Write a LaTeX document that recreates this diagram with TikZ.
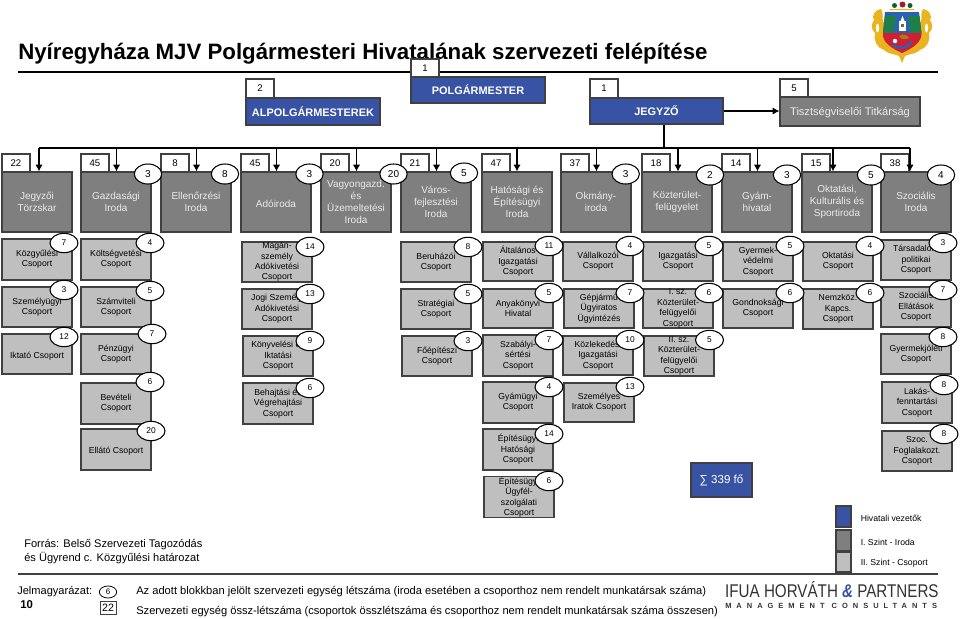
\documentclass[tikz,border=0pt]{standalone}
\usepackage{fontspec}
\setmainfont{Liberation Sans}
\usetikzlibrary{arrows.meta,shapes.geometric}
\pgfdeclarelayer{top}
\pgfsetlayers{main,top}
\definecolor{bluebox}{HTML}{3953A4}
\definecolor{darkbox}{HTML}{7F7F7F}
\definecolor{lightbox}{HTML}{BFBFBF}
\definecolor{edgecol}{HTML}{404040}
\definecolor{goldc}{HTML}{E9B41F}
\definecolor{redc}{HTML}{CE1F36}
\definecolor{greenc}{HTML}{1F7F48}
\definecolor{bluec}{HTML}{2A62AE}
\tikzset{
 base/.style={draw=edgecol,line width=.95pt,inner sep=0pt,align=center},
 tabbox/.style={base,fill=white,font=\fontsize{7.2}{9}\selectfont,line width=.8pt},
 bossbox/.style={base,fill=bluebox,text=white,font=\bfseries\fontsize{8.2}{10}\selectfont},
 officebox/.style={base,fill=darkbox,text=white!92!black,font=\fontsize{7.5}{9}\selectfont,execute at begin node={\rule{0pt}{8pt}}},
 groupbox/.style={base,fill=lightbox,text=black,font=\fontsize{6.5}{7.8}\selectfont,execute at begin node={\rule{0pt}{8pt}}},
 bigoval/.style={draw=black,line width=.8pt,fill=white,ellipse,inner sep=0pt,minimum width=20.5pt,minimum height=15pt,font=\fontsize{7.5}{9}\selectfont},
 smalloval/.style={draw=black,line width=.8pt,fill=white,ellipse,inner sep=0pt,minimum width=21pt,minimum height=14.5pt,font=\fontsize{6.3}{8}\selectfont},
 lineconn/.style={draw=black,line width=.85pt},
 arrconn/.style={lineconn,-{Latex[length=5pt,width=5.5pt]}},
 plain/.style={inner sep=0pt,anchor=west,align=left},
}
\newcommand{\bx}[7]{%
 \pgfmathsetlengthmacro\bxw{(#5-#3)*0.75pt}%
 \pgfmathsetlengthmacro\bxh{(#6-#4)*0.75pt}%
 \node[#2,minimum width=\bxw,minimum height=\bxh] (#1) at ({(#3+#5)/2},{(#4+#6)/2}) {#7};}
\newcommand{\ovb}[4]{\begin{pgfonlayer}{top}\node[bigoval] (#1) at (#2,#3) {#4};\end{pgfonlayer}}
\newcommand{\ovs}[4]{\begin{pgfonlayer}{top}\node[smalloval] (#1) at (#2,#3) {#4};\end{pgfonlayer}}
\newcommand{\gp}[9]{\bx{#1}{groupbox}{#2}{#3}{#4}{#5}{#6}\ovs{#1o}{#7}{#8}{#9}}
\begin{document}
\begin{tikzpicture}[x=0.75pt,y=-0.75pt]
\useasboundingbox (0,0) rectangle (960,618);
% title and rules
\node[plain,font=\bfseries\fontsize{16.7}{18}\selectfont] (title) at (18,53.5) {Nyíregyháza MJV Polgármesteri Hivatalának szervezeti felépítése};
\coordinate (ruleA) at (18,72); \coordinate (ruleB) at (938,72);
\draw[line width=.9pt,draw=black] (ruleA) -- (ruleB);
\coordinate (ruleC) at (18,574); \coordinate (ruleD) at (938,574);
\draw[line width=1.2pt,draw=edgecol] (ruleC) -- (ruleD);
% leaders
\bx{polg}{bossbox}{411}{77}{545}{103}{POLGÁRMESTER}
\bx{polgt}{tabbox}{411}{59}{439}{77}{1}
\bx{alp}{bossbox}{246}{98}{380}{125}{ALPOLGÁRMESTEREK}
\bx{alpt}{tabbox}{246}{79}{274}{98}{2}
\bx{jeg}{bossbox}{590}{98}{723}{124}{JEGYZŐ}
\bx{jegt}{tabbox}{590}{79}{618}{98}{1}
\bx{tisz}{officebox,font=\fontsize{8.3}{10}\selectfont}{780}{97}{920}{126}{Tisztségviselői Titkárság}
\bx{tiszt}{tabbox}{780}{79}{808}{97}{5}
% offices
\bx{o1}{officebox}{2}{172}{72}{232}{Jegyzői\\Törzskar}
\bx{o2}{officebox}{81}{172}{151}{232}{Gazdasági\\Iroda}
\bx{o3}{officebox}{161}{172}{231}{232}{Ellenőrzési\\Iroda}
\bx{o4}{officebox}{241}{172}{311}{232}{Adóiroda}
\bx{o5}{officebox}{321}{172}{391}{232}{Vagyongazd.\\és\\Üzemeltetési\\Iroda}
\bx{o6}{officebox}{401}{172}{471}{232}{Város-\\fejlesztési\\Iroda}
\bx{o7}{officebox}{482}{172}{552}{232}{Hatósági és\\Építésügyi\\Iroda}
\bx{o8}{officebox}{561}{172}{631}{232}{Okmány-\\iroda}
\bx{o9}{officebox}{642}{172}{712}{232}{Közterület-\\felügyelet}
\bx{o10}{officebox}{722}{172}{792}{232}{Gyám-\\hivatal}
\bx{o11}{officebox}{802}{172}{872}{232}{Oktatási,\\Kulturális és\\Sportiroda}
\bx{o12}{officebox}{881}{172}{951}{232}{Szociális\\Iroda}
\bx{t1}{tabbox}{2}{154}{30}{172}{22}
\bx{t2}{tabbox}{81}{154}{109}{172}{45}
\bx{t3}{tabbox}{161}{154}{189}{172}{8}
\bx{t4}{tabbox}{241}{154}{269}{172}{45}
\bx{t5}{tabbox}{321}{154}{349}{172}{20}
\bx{t6}{tabbox}{401}{154}{429}{172}{21}
\bx{t7}{tabbox}{482}{154}{510}{172}{47}
\bx{t8}{tabbox}{561}{154}{589}{172}{37}
\bx{t9}{tabbox}{642}{154}{670}{172}{18}
\bx{t10}{tabbox}{722}{154}{750}{172}{14}
\bx{t11}{tabbox}{802}{154}{830}{172}{15}
\bx{t12}{tabbox}{881}{154}{909}{172}{38}
\ovb{v2}{148}{174}{3}
\ovb{v3}{225}{174}{8}
\ovb{v4}{309.5}{174}{3}
\ovb{v5}{393.5}{174}{20}
\ovb{v6}{464}{173}{5}
\ovb{v8}{625.7}{174}{3}
\ovb{v9}{710}{175}{2}
\ovb{v10}{787}{175}{3}
\ovb{v11}{871}{175}{5}
\ovb{v12}{941}{175}{4}
% connectors
\coordinate (b1) at (39,148); \coordinate (b2) at (116.5,148); \coordinate (b3) at (196.5,148);
\coordinate (b4) at (276.5,148); \coordinate (b5) at (356.5,148); \coordinate (b6) at (436.5,148);
\coordinate (b7) at (517,148); \coordinate (b8) at (596.5,148); \coordinate (b9) at (678,148);
\coordinate (b10) at (757.5,148); \coordinate (b11) at (833,148); \coordinate (b12) at (910,148);
\coordinate (bj) at (664,148);
\draw[lineconn] (b1) -- (b12);
\draw[lineconn] (bj |- jeg.south) -- (bj);
\foreach \i in {1,...,12} {\draw[arrconn] (b\i) -- (b\i |- o\i.north);}
\draw[arrconn] (jeg.east) -- (jeg.east -| tisz.west);
% groups, column 1
\gp{g1}{2}{239}{72}{280}{Közgyűlési\\Csoport}{64}{243}{7}
\gp{g2}{2}{287}{72}{327}{Személyügyi\\Csoport}{64}{290}{3}
\gp{g3}{2}{334}{72}{374}{Iktató Csoport}{64}{337}{12}
% column 2
\gp{g4}{81}{239}{151}{280}{Költségvetési\\Csoport}{150}{243}{4}
\gp{g5}{81}{287}{151}{327}{Számviteli\\Csoport}{150}{291}{5}
\gp{g6}{81}{334}{151}{374}{Pénzügyi\\Csoport}{152}{334}{7}
\gp{g7}{81}{383}{151}{424}{Bevételi\\Csoport}{150}{382}{6}
\gp{g8}{81}{429}{151}{470}{Ellátó Csoport}{151}{431}{20}
% column 4
\gp{g9}{242}{242}{312}{282}{Magán-\\személy\\Adókivetési\\Csoport}{310}{247}{14}
\gp{g10}{242}{289}{312}{329}{Jogi Személy\\Adókivetési\\Csoport}{310}{294}{13}
\gp{g11}{243}{336}{313}{376}{Könyvelési és\\Iktatási\\Csoport}{310}{341}{9}
\gp{g12}{243}{383}{313}{424}{Behajtási és\\Végrehajtási\\Csoport}{310}{388}{6}
% column 6
\gp{g13}{401}{242}{471}{282}{Beruházói\\Csoport}{468}{247}{8}
\gp{g14}{401}{289}{471}{329}{Stratégiai\\Csoport}{468}{294}{5}
\gp{g15}{402}{336}{472}{376}{Főépítészi\\Csoport}{468}{341}{3}
% column 7
\gp{g16}{483}{242}{553}{281}{Általános\\Igazgatási\\Csoport}{549}{246}{11}
\gp{g17}{483}{289}{553}{328}{Anyakönyvi\\Hivatal}{549}{293}{5}
\gp{g18}{483}{335}{553}{376}{Szabályi-\\sértési\\Csoport}{549}{340}{7}
\gp{g19}{483}{382}{553}{423}{Gyámügyi\\Csoport}{549}{387}{4}
\gp{g20}{483}{429}{553}{470}{Építésügyi\\Hatósági\\Csoport}{549}{434}{14}
\gp{g21}{484}{477}{554}{517}{Építésügyi\\Ügyfél-\\szolgálati\\Csoport}{549}{481}{6}
% column 8
\gp{g22}{563}{242}{633}{281}{Vállalkozói\\Csoport}{630}{246}{4}
\gp{g23}{564}{289}{634}{328}{Gépjármű\\Ügyiratos\\Ügyintézés}{630}{293}{7}
\gp{g24}{563}{336}{633}{375}{Közlekedési\\Igazgatási\\Csoport}{630}{340}{10}
\gp{g25}{564}{383}{634}{422}{Személyes\\Iratok Csoport}{630}{387}{13}
% column 9
\gp{g26}{643}{242}{713}{281}{Igazgatási\\Csoport}{709}{246}{5}
\gp{g27}{643}{289}{713}{328}{I. sz.\\Közterület-\\felügyelői\\Csoport}{709}{293}{6}
\gp{g28}{644}{336}{714}{376}{II. sz.\\Közterület-\\felügyelői\\Csoport}{709.5}{340}{5}
% column 10
\gp{g29}{723}{242}{793}{281}{Gyermek-\\védelmi\\Csoport}{790}{246}{5}
\gp{g30}{723}{289}{793}{328}{Gondnoksági\\Csoport}{790}{293}{6}
% column 11
\gp{g31}{803}{242}{873}{281}{Oktatási\\Csoport}{870}{246}{4}
\gp{g32}{803}{289}{873}{329}{Nemzköz.\\Kapcs.\\Csoport}{870}{293}{6}
% column 12
\gp{g33}{881}{240}{951}{280}{Társadalom\\politikai\\Csoport}{943}{243}{3}
\gp{g34}{881}{287}{951}{327}{Szociális\\Ellátások\\Csoport}{943}{290}{7}
\gp{g35}{881}{334}{951}{374}{Gyermekjóléti\\Csoport}{943}{337}{8}
\gp{g36}{882}{382}{952}{423}{Lakás-\\fenntartási\\Csoport}{944}{385}{8}
\gp{g37}{882}{431}{952}{471}{Szoc.\\Foglalakozt.\\Csoport}{944}{434}{8}
% sum
\bx{sum}{base,fill=bluebox,text=white,font=\fontsize{8.7}{11}\selectfont}{691}{463}{752}{497}{∑ 339 fő}
% legend
\bx{l1}{base,fill=bluebox}{836}{506}{851}{527}{}
\bx{l2}{base,fill=darkbox}{836}{530}{851}{551}{}
\bx{l3}{base,fill=lightbox}{836}{552}{851}{572}{}
\node[plain,font=\fontsize{6.5}{8}\selectfont] (l1t) at (860.5,518) {Hivatali vezetők};
\node[plain,font=\fontsize{6.5}{8}\selectfont] (l2t) at (860.5,542.5) {I. Szint - Iroda};
\node[plain,font=\fontsize{6.5}{8}\selectfont] (l3t) at (860.5,563.5) {II. Szint - Csoport};
% source and key
\node[plain,font=\fontsize{8.3}{9.9}\selectfont] (src) at (24,551.5) {Forrás: Belső Szervezeti Tagozódás\\és Ügyrend c. Közgyűlési határozat};
\node[plain,font=\fontsize{8.3}{10}\selectfont] (jm) at (17,592) {Jelmagyarázat:};
\node[plain,font=\bfseries\fontsize{8.5}{10}\selectfont] (ten) at (20,604.5) {10};
\node[draw=black,line width=.6pt,ellipse,inner sep=0pt,minimum width=13pt,minimum height=9pt,font=\fontsize{6}{7}\selectfont] (kov) at (108,592) {6};
\bx{kbx}{base,line width=.6pt,font=\fontsize{8}{9}\selectfont}{100}{601}{116}{614}{22}
\node[plain,font=\fontsize{8.35}{10}\selectfont] (k1) at (136,591.5) {Az adott blokkban jelölt szervezeti egység létszáma (iroda esetében a csoporthoz nem rendelt munkatársak száma)};
\node[plain,font=\fontsize{8.35}{10}\selectfont] (k2) at (136,611.5) {Szervezeti egység össz-létszáma (csoportok összlétszáma és csoporthoz nem rendelt munkatársak száma összesen)};
% consultant logo
\node[plain,font=\fontsize{13.8}{15}\selectfont,text=black!80,transform shape,xscale=.825] (ifua) at (725,589.5) {IFUA HORVÁTH {\color{bluebox}\bfseries\itshape\&} PARTNERS};
\node[plain,font=\bfseries\fontsize{5.6}{7}\addfontfeatures{LetterSpace=67}\selectfont,text=black!80] (mc) at (725,605.5) {MANAGEMENT CONSULTANTS};
% coat of arms
\begin{scope}
\fill[goldc] (874,20) .. controls (871,24) and (871,30) .. (875,33) .. controls (873,40) and (877,48) .. (884,50) .. controls (890,55) and (896,54) .. (899,56) -- (902,63) -- (905,56) .. controls (908,54) and (914,55) .. (920,50) .. controls (927,48) and (931,40) .. (929,33) .. controls (933,30) and (933,24) .. (930,20) .. controls (933,17) and (929,9) .. (923,9) .. controls (920,14) and (922,18) .. (921,22) -- (883,22) .. controls (882,18) and (884,14) .. (881,9) .. controls (875,9) and (871,17) .. (874,20) -- cycle;
\fill[white] (877.5,28) ellipse (1.6 and 4.5) (926.5,28) ellipse (1.6 and 4.5);
\fill[goldc] (890,9) -- (914,9) -- (916,14) -- (888,14) -- cycle;
\fill[greenc!70!black] (894.5,5.5) circle (2.5) (910,5.5) circle (2.5);
\fill[redc!80!black] (902.5,4.5) circle (3);
\fill[white!85!goldc] (886,9.5) rectangle (918,12.5);
\fill[bluec] (885,12) -- (919,12) -- (921.5,33) -- (883,33) -- cycle;
\fill[greenc] (884.8,16) -- (896,16) -- (893,33) -- (883,33) -- cycle;
\fill[greenc] (919.5,16) -- (908,16) -- (911,33) -- (921.5,33) -- cycle;
\fill[redc] (883,33) -- (921.5,33) .. controls (922,42) and (913,48) .. (902,53) .. controls (891,48) and (882,42) .. (883,33) -- cycle;
\fill[white] (899,21) rectangle (906,31);
\fill[white] (900.5,21) -- (902.5,16) -- (904.5,21) -- cycle;
\fill[black!60] (901,24) rectangle (904,27);
\draw[bluec,line width=1.8pt,line cap=round] (893,45) .. controls (899,49) and (907,49) .. (911,42);
\fill[white] (895,41) circle (2.2);
\fill[goldc!70!black] (899,36) .. controls (903,33) and (908,35) .. (909,38) .. controls (905,40) and (901,40) .. (899,36) -- cycle;
\end{scope}
\end{tikzpicture}
\end{document}
